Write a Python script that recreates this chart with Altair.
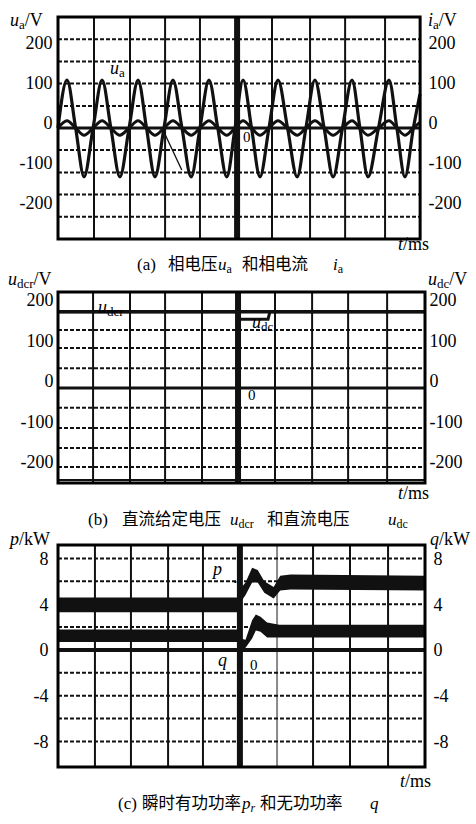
import altair as alt
import pandas as pd

SERIF = "'Liberation Serif', 'Times New Roman', Times, serif"
CJKF = "'Noto Sans CJK SC', 'Noto Sans CJK TC', sans-serif"
INK = "#111111"

# ---------------- data ----------------
x_ticks = [0, 40, 80, 120, 160]
xdom = [0, 195.7]

# panel (a): phase voltage u_a and phase current i_a
a_fx = [0, 193.1]
a_ydom = [-277.5, 277.5]
a_fy = [-277.5, 277.5]
a_yticks = [-200, -100, 0, 100, 200]
a_vgrid = [19.2, 38.4, 57.1, 75.7, 114.1, 134.4, 153.1, 174.4]
a_hgrid = [222, 166, 111, 55, -55, -111, -166, -222]
a_zero = [0]
a_step = [95.5]
ua_t = [0, 4.8, 9.4, 13.9, 18.7, 23.5, 28.2, 33.0, 37.9, 42.7, 47.2, 51.7, 56.5, 61.3,
        66.1, 71.0, 75.7, 80.5, 85.2, 90.0, 94.4, 98.7, 103.2, 107.7, 112.5, 117.3,
        122.4, 127.5, 132.2, 137.0, 141.9, 146.7, 151.7, 156.8, 161.0, 165.3, 170.9,
        176.5, 180.7, 185.0, 189.5, 193.0]
ua_v = [0, 120, 0, -122, 0, 120, 0, -122, 0, 120, 0, -122, 0, 120,
        0, -122, 0, 120, 0, -122, 0, 120, 0, -122, 0, 120,
        0, -122, 0, 120, 0, -122, 0, 120, 0, -122, 0,
        120, 0, -122, 0, 85]
ia_v = [0, 18, 0, -18, 0, 18, 0, -18, 0, 18, 0, -18, 0, 18,
        0, -18, 0, 18, 0, -18, 0, 18, 0, -18, 0, 18,
        0, -18, 0, 18, 0, -18, 0, 18, 0, -18, 0,
        18, 0, -18, 0, 14]
a_ptr_t = [56, 66]
a_ptr_v = [-5, -105]

# panel (b): DC reference voltage u_dcr and DC voltage u_dc
b_fx = [0, 195.7]
b_ydom = [-256.8, 237]
b_fy = [-234.6, 237]
b_yticks = [-200, -100, 0, 100, 200]
b_vgrid = [18.7, 38.4, 57.1, 76.8, 115.7, 135.5, 154.7, 175.5]
b_hgrid = [143, 99, 49, -49, -99, -148, -195]
b_zero = [0]
b_base = [-227]
b_step = [96]
udcr_t = [0, 195.7]
udcr_v = [188, 188]
udc_t = [0, 96, 97, 112, 113, 195.7]
udc_v = [188, 188, 170, 170, 188, 188]

# panel (c): instantaneous active power p and reactive power q
c_fx = [0, 195.7]
c_ydom = [-10.23, 9.18]
c_fy = [-10.23, 9.18]
c_yticks = [-8, -4, 0, 4, 8]
c_vgrid = [19.7, 38.9, 58.7, 77.3, 136.0, 155.7, 176.0]
c_vgray = [116.8]
c_hgrid = [8, 6, 4, 2, -2, -4, -6, -8]
c_zero = [0]
c_step = [97]
p_t = [0, 97, 97.5, 100, 103.5, 106.5, 110, 115, 118.5, 124, 195.7]
p_lo = [3.3, 3.3, 4.2, 4.8, 5.9, 5.9, 5.0, 4.5, 5.2, 5.3, 5.2]
p_hi = [4.6, 4.6, 5.4, 5.9, 7.2, 7.0, 6.0, 5.5, 6.5, 6.6, 6.5]
q_t = [0, 97, 97.5, 100, 103.5, 105.5, 108, 111.5, 118, 195.7]
q_lo = [0.7, 0.7, 0.0, 0.2, 1.0, 1.7, 1.6, 1.1, 1.1, 1.1]
q_hi = [1.8, 1.8, 1.0, 0.9, 2.6, 3.1, 2.9, 2.4, 2.2, 2.2]

# ---------------- helpers ----------------
ONE = pd.DataFrame({"k": [0]})
W_R = {"(": 0.333, ")": 0.333, " ": 0.25, "/": 0.278, "V": 0.722, "k": 0.5, "W": 0.944,
       "m": 0.778, "s": 0.389, "a": 0.444, "b": 0.5, "c": 0.444, "d": 0.5, "r": 0.333,
       "u": 0.5, "i": 0.278, "p": 0.5, "q": 0.5, "t": 0.278, ".": 0.25, "0": 0.5}
W_I = {"u": 0.5, "i": 0.278, "p": 0.5, "q": 0.5, "t": 0.278, "r": 0.389, "a": 0.5}


def sc(dom):
    return alt.Scale(domain=dom, nice=False, zero=False)


def seg(x, y, parts, size=18, sub=13, cjk=16.5, drop=3):
    out = []
    cx = x
    for text, kind in parts:
        italic = kind in ("i", "si")
        if kind in ("s", "si"):
            fs, yy = sub, y + drop
        elif kind == "c":
            fs, yy = cjk, y
        else:
            fs, yy = size, y
        out.append(alt.Chart(ONE).mark_text(
            align="left", baseline="alphabetic",
            font=CJKF if kind == "c" else SERIF, fontSize=fs,
            fontStyle="italic" if italic else "normal", color="black").encode(
            x=alt.value(cx), y=alt.value(yy), text=alt.value(text)))
        if kind == "c":
            cx += fs * len(text)
        else:
            tab = W_I if italic else W_R
            cx += fs * sum(tab.get(ch, 0.5) for ch in text)
    return out


def yaxis(vals, orient, pad, off):
    return alt.Axis(values=vals, orient=orient, ticks=False, domain=False, grid=False,
                    title=None, labelFont=SERIF, labelFontSize=18, labelColor="black",
                    labelPadding=pad, labelOffset=off, labelExpr="'' + datum.value",
                    labelAlign="right" if orient == "left" else "left")


def xaxis(pad, offset=0):
    return alt.Axis(values=x_ticks, orient="bottom", ticks=False, domain=False, grid=False,
                    title=None, labelFont=SERIF, labelFontSize=18, labelColor="black",
                    labelPadding=pad, labelFlush=False, labelExpr="'' + datum.value",
                    offset=offset)


def vrules(vals, ydom, fy, width=2.0, color=INK, axis=None):
    n = len(vals)
    df = pd.DataFrame({"t": vals, "y0": [fy[0]] * n, "y1": [fy[1]] * n})
    return alt.Chart(df).mark_rule(strokeWidth=width, color=color).encode(
        x=alt.X("t:Q", scale=sc(xdom), axis=axis),
        y=alt.Y("y0:Q", scale=sc(ydom), axis=None), y2="y1:Q")


def hrules(vals, ydom, fx, width=2.0, color=INK, dashed=False, axis=None):
    n = len(vals)
    df = pd.DataFrame({"v": vals, "x0": [fx[0]] * n, "x1": [fx[1]] * n})
    if dashed:
        m = alt.Chart(df).mark_rule(strokeWidth=width, color=color, strokeDash=[4, 2])
    else:
        m = alt.Chart(df).mark_rule(strokeWidth=width, color=color)
    return m.encode(y=alt.Y("v:Q", scale=sc(ydom), axis=axis),
                    x=alt.X("x0:Q", scale=sc(xdom), axis=None), x2="x1:Q")


def frame_rect(ydom, fx, fy):
    df = pd.DataFrame({"x0": [fx[0]], "x1": [fx[1]], "y0": [fy[0]], "y1": [fy[1]]})
    return alt.Chart(df).mark_rect(filled=False, stroke="black", strokeWidth=3).encode(
        x=alt.X("x0:Q", scale=sc(xdom), axis=None), x2="x1:Q",
        y=alt.Y("y0:Q", scale=sc(ydom), axis=None), y2="y1:Q")


def trace(ts, vs, ydom, width, interp="linear"):
    df = pd.DataFrame({"t": ts, "v": vs, "i": list(range(len(ts)))})
    return alt.Chart(df).mark_line(color=INK, strokeWidth=width, interpolate=interp).encode(
        x=alt.X("t:Q", scale=sc(xdom), axis=None),
        y=alt.Y("v:Q", scale=sc(ydom), axis=None),
        order="i:Q")


def band(ts, lo, hi, ydom):
    df = pd.DataFrame({"t": ts, "lo": lo, "hi": hi})
    return alt.Chart(df).mark_area(color=INK, opacity=1).encode(
        x=alt.X("t:Q", scale=sc(xdom), axis=None),
        y=alt.Y("lo:Q", scale=sc(ydom), axis=None),
        y2="hi:Q")


# ---------------- panel (a) ----------------
ptr = pd.DataFrame({"t": [a_ptr_t[0]], "v": [a_ptr_v[0]], "t2": [a_ptr_t[1]], "v2": [a_ptr_v[1]]})
a_layers = [
    vrules(a_vgrid, a_ydom, a_fy, axis=xaxis(0)),
    hrules(a_hgrid, a_ydom, a_fx, dashed=True, axis=yaxis(a_yticks, "left", 6, -5)),
    hrules(a_zero, a_ydom, a_fx, width=3, axis=yaxis(a_yticks, "right", 3, -5)),
    vrules(a_step, a_ydom, a_fy, width=6),
    trace(ua_t, ua_v, a_ydom, 3.2, "monotone"),
    trace(ua_t, ia_v, a_ydom, 3.0, "monotone"),
    alt.Chart(ptr).mark_rule(strokeWidth=1.3, color=INK).encode(
        x=alt.X("t:Q", scale=sc(xdom), axis=None),
        y=alt.Y("v:Q", scale=sc(a_ydom), axis=None), x2="t2:Q", y2="v2:Q"),
    frame_rect(a_ydom, a_fx, a_fy),
]
a_layers += seg(-48, 9, [("u", "i"), ("a", "s"), ("/V", "r")])
a_layers += seg(370, 9, [("i", "i"), ("a", "s"), ("/V", "r")])
a_layers += seg(52, 57, [("u", "i"), ("a", "s")])
a_layers += seg(185, 125, [("0", "r")], size=15)
a_layers += seg(340, 233, [("t", "i"), ("/ms", "r")])
a_layers += seg(79, 253, [("(a)", "r")], size=17)
a_layers += seg(110, 253, [("相电压", "c")])
a_layers += seg(160, 253, [("u", "i"), ("a", "s")], size=17, sub=12)
a_layers += seg(184, 253, [("和相电流", "c")])
a_layers += seg(275, 253, [("i", "i"), ("a", "s")], size=17, sub=12)
pa = alt.layer(*a_layers).properties(width=367, height=222).resolve_scale(y="independent")

# ---------------- panel (b) ----------------
b_layers = [
    vrules(b_vgrid, b_ydom, b_fy, axis=xaxis(2, -9)),
    hrules(b_hgrid, b_ydom, b_fx, dashed=True, axis=yaxis(b_yticks, "left", 5, -6)),
    hrules(b_zero, b_ydom, b_fx, width=3, axis=yaxis(b_yticks, "right", 4, -6)),
    hrules(b_base, b_ydom, b_fx, width=2),
    vrules(b_step, b_ydom, b_fy, width=6),
    trace(udcr_t, udcr_v, b_ydom, 3.5),
    trace(udc_t, udc_v, b_ydom, 3.0),
    frame_rect(b_ydom, b_fx, b_fy),
]
b_layers += seg(-50, -7, [("u", "i"), ("dcr", "s"), ("/V", "r")])
b_layers += seg(370, -7, [("u", "i"), ("dc", "s"), ("/V", "r")])
b_layers += seg(40, 21, [("u", "i"), ("dcr", "s")])
b_layers += seg(194, 36, [("u", "i"), ("dc", "s")])
b_layers += seg(190, 108, [("0", "r")], size=15)
b_layers += seg(340, 207, [("t", "i"), ("/ms", "r")])
b_layers += seg(30, 233, [("(b)", "r")], size=17)
b_layers += seg(64, 233, [("直流给定电压", "c")])
b_layers += seg(172, 233, [("u", "i"), ("dcr", "s")], size=17, sub=12)
b_layers += seg(209, 233, [("和直流电压", "c")])
b_layers += seg(330, 233, [("u", "i"), ("dc", "s")], size=17, sub=12)
pb = alt.layer(*b_layers).properties(width=367, height=200).resolve_scale(y="independent")

# ---------------- panel (c) ----------------
c_layers = [
    vrules(c_vgrid, c_ydom, c_fy, axis=xaxis(7)),
    vrules(c_vgray, c_ydom, c_fy, color="#8a8a8a"),
    hrules(c_hgrid, c_ydom, c_fx, dashed=True, axis=yaxis(c_yticks, "left", 10, 1)),
    hrules(c_zero, c_ydom, c_fx, width=4, axis=yaxis(c_yticks, "right", 8, 1)),
    vrules(c_step, c_ydom, c_fy, width=6),
    band(p_t, p_lo, p_hi, c_ydom),
    band(q_t, q_lo, q_hi, c_ydom),
    frame_rect(c_ydom, c_fx, c_fy),
]
c_layers += seg(-48, 0, [("p", "i"), ("/kW", "r")])
c_layers += seg(372, 0, [("q", "i"), ("/kW", "r")])
c_layers += seg(155, 30, [("p", "i")])
c_layers += seg(175, 38, [(".", "r")])
c_layers += seg(160, 121, [("q", "i")])
c_layers += seg(192, 125, [("0", "r")], size=15)
c_layers += seg(342, 242, [("t", "i"), ("/ms", "r")])
c_layers += seg(60, 264, [("(c)", "r")], size=17)
c_layers += seg(84, 264, [("瞬时有功功率", "c")])
c_layers += seg(184, 264, [("p", "i"), ("r", "si")], size=17, sub=12)
c_layers += seg(202, 264, [("和无功功率", "c")])
c_layers += seg(312, 264, [("q", "i")], size=17)
pc = alt.layer(*c_layers).properties(width=367, height=222).resolve_scale(y="independent")

chart = alt.vconcat(pa, pb, pc, spacing=53, bounds="flush").properties(
    padding={"left": 8, "top": 12, "right": 4, "bottom": 10},
    background="white",
).configure_view(strokeWidth=0)

chart.save("out.html", embed_options={"renderer": "svg", "actions": False})
